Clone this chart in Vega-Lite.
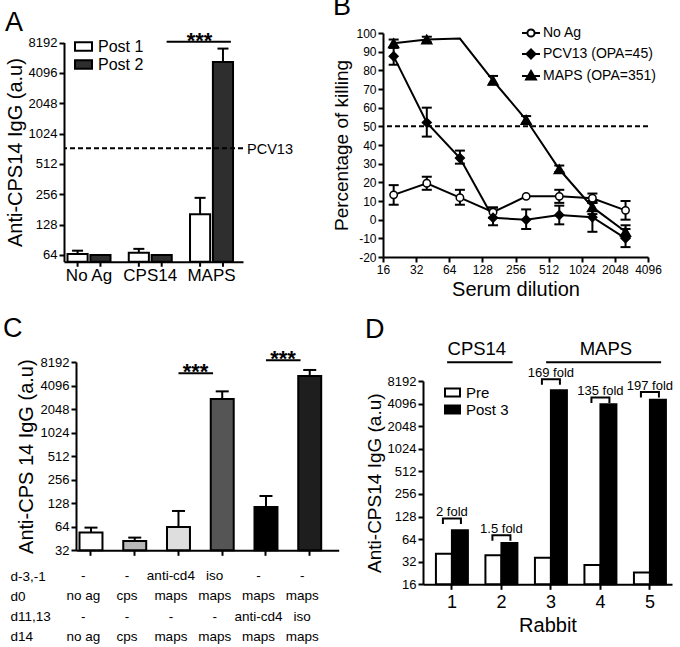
{
  "$schema": "https://vega.github.io/schema/vega-lite/v6.json",
  "background": "white",
  "padding": {"left": 3, "top": -7, "right": 0, "bottom": 0},
  "spacing": 16,
  "datasets": {
    "a": [
      {"group": "No Ag", "post": "Post 1", "value": 65.5, "hi": 70.6},
      {"group": "No Ag", "post": "Post 2", "value": 64, "hi": 64},
      {"group": "CPS14", "post": "Post 1", "value": 67.4, "hi": 73.6},
      {"group": "CPS14", "post": "Post 2", "value": 64, "hi": 64},
      {"group": "MAPS", "post": "Post 1", "value": 162, "hi": 236},
      {"group": "MAPS", "post": "Post 2", "value": 5250, "hi": 7130}
    ],
    "aref": [{"label": "PCV13", "value": 734}],
    "asig": [{"from": "CPS14", "to": "MAPS", "level": 8340, "label": "***"}],
    "b": [
      {"series": "No Ag", "dil": 20, "pct": 13.3, "lo": 8, "hi": 18.5},
      {"series": "No Ag", "dil": 40, "pct": 19.5, "lo": 16, "hi": 23},
      {"series": "No Ag", "dil": 80, "pct": 11.8, "lo": 8, "hi": 16},
      {"series": "No Ag", "dil": 160, "pct": 4, "lo": 1, "hi": 6.5},
      {"series": "No Ag", "dil": 320, "pct": 12.5, "lo": null, "hi": null},
      {"series": "No Ag", "dil": 640, "pct": 12.5, "lo": 9, "hi": 16},
      {"series": "No Ag", "dil": 1280, "pct": 11.5, "lo": 9, "hi": 14},
      {"series": "No Ag", "dil": 2560, "pct": 5, "lo": 0, "hi": 10},
      {"series": "PCV13 (OPA=45)", "dil": 20, "pct": 87.5, "lo": 83, "hi": 92},
      {"series": "PCV13 (OPA=45)", "dil": 40, "pct": 52, "lo": 44.5, "hi": 60},
      {"series": "PCV13 (OPA=45)", "dil": 80, "pct": 33, "lo": 30, "hi": 37},
      {"series": "PCV13 (OPA=45)", "dil": 160, "pct": 1, "lo": -3, "hi": 6.5},
      {"series": "PCV13 (OPA=45)", "dil": 320, "pct": 0, "lo": -5, "hi": 5.5},
      {"series": "PCV13 (OPA=45)", "dil": 640, "pct": 2.5, "lo": -2.5, "hi": 7.5},
      {"series": "PCV13 (OPA=45)", "dil": 1280, "pct": 1.3, "lo": -6.5, "hi": 9},
      {"series": "PCV13 (OPA=45)", "dil": 2560, "pct": -10, "lo": -14.7, "hi": -5},
      {"series": "MAPS (OPA=351)", "dil": 20, "pct": 94.5, "lo": 92.5, "hi": 96.5},
      {"series": "MAPS (OPA=351)", "dil": 40, "pct": 96.5, "lo": 95, "hi": 98},
      {"series": "MAPS (OPA=351)", "dil": 80, "pct": 97, "lo": null, "hi": null},
      {"series": "MAPS (OPA=351)", "dil": 160, "pct": 74.5, "lo": 72.5, "hi": 77},
      {"series": "MAPS (OPA=351)", "dil": 320, "pct": 53.5, "lo": 51.5, "hi": 55.5},
      {"series": "MAPS (OPA=351)", "dil": 640, "pct": 27, "lo": 25.5, "hi": 29},
      {"series": "MAPS (OPA=351)", "dil": 1280, "pct": 6.7, "lo": 3, "hi": 10},
      {"series": "MAPS (OPA=351)", "dil": 2560, "pct": -6.5, "lo": -9.5, "hi": -3}
    ],
    "bref": [{"value": 50}],
    "c": [
      {"bar": "1", "value": 53.9, "hi": 62.4},
      {"bar": "2", "value": 42.1, "hi": 46.5},
      {"bar": "3", "value": 63.7, "hi": 101.9},
      {"bar": "4", "value": 2750, "hi": 3450},
      {"bar": "5", "value": 114.7, "hi": 158.4},
      {"bar": "6", "value": 5440, "hi": 6480}
    ],
    "csig": [
      {"from": "3", "to": "4", "level": 5880, "label": "***"},
      {"from": "5", "to": "6", "level": 8620, "label": "***"}
    ],
    "ctab": [
      {"bar": "1", "row": "d-3,-1", "label": "-"},
      {"bar": "2", "row": "d-3,-1", "label": "-"},
      {"bar": "3", "row": "d-3,-1", "label": "anti-cd4"},
      {"bar": "4", "row": "d-3,-1", "label": "iso"},
      {"bar": "5", "row": "d-3,-1", "label": "-"},
      {"bar": "6", "row": "d-3,-1", "label": "-"},
      {"bar": "1", "row": "d0", "label": "no ag"},
      {"bar": "2", "row": "d0", "label": "cps"},
      {"bar": "3", "row": "d0", "label": "maps"},
      {"bar": "4", "row": "d0", "label": "maps"},
      {"bar": "5", "row": "d0", "label": "maps"},
      {"bar": "6", "row": "d0", "label": "maps"},
      {"bar": "1", "row": "d11,13", "label": "-"},
      {"bar": "2", "row": "d11,13", "label": "-"},
      {"bar": "3", "row": "d11,13", "label": "-"},
      {"bar": "4", "row": "d11,13", "label": "-"},
      {"bar": "5", "row": "d11,13", "label": "anti-cd4"},
      {"bar": "6", "row": "d11,13", "label": "iso"},
      {"bar": "1", "row": "d14", "label": "no ag"},
      {"bar": "2", "row": "d14", "label": "cps"},
      {"bar": "3", "row": "d14", "label": "maps"},
      {"bar": "4", "row": "d14", "label": "maps"},
      {"bar": "5", "row": "d14", "label": "maps"},
      {"bar": "6", "row": "d14", "label": "maps"}
    ],
    "d": [
      {"rabbit": "1", "bleed": "Pre", "value": 41},
      {"rabbit": "1", "bleed": "Post 3", "value": 84},
      {"rabbit": "2", "bleed": "Pre", "value": 39},
      {"rabbit": "2", "bleed": "Post 3", "value": 57},
      {"rabbit": "3", "bleed": "Pre", "value": 36},
      {"rabbit": "3", "bleed": "Post 3", "value": 6150},
      {"rabbit": "4", "bleed": "Pre", "value": 29},
      {"rabbit": "4", "bleed": "Post 3", "value": 4000},
      {"rabbit": "5", "bleed": "Pre", "value": 23},
      {"rabbit": "5", "bleed": "Post 3", "value": 4600}
    ],
    "dfold": [
      {"rabbit": "1", "level": 110.6, "label": "2 fold"},
      {"rabbit": "2", "level": 66.2, "label": "1.5 fold"},
      {"rabbit": "3", "level": 7940, "label": "169 fold"},
      {"rabbit": "4", "level": 4530, "label": "135 fold"},
      {"rabbit": "5", "level": 5360, "label": "197 fold"}
    ],
    "dgrp": [
      {"label": "CPS14", "from": "1", "to": "2", "level": 14540, "tlevel": 18050},
      {"label": "MAPS", "from": "3", "to": "5", "level": 14540, "tlevel": 18050}
    ]
  },
  "config": {
    "view": {"stroke": null},
    "concat": {"spacing": 20},
    "axis": {
      "domainColor": "black", "domainWidth": 2, "tickColor": "black", "tickWidth": 2, "tickSize": 5,
      "labelColor": "black", "titleColor": "black", "grid": false,
      "labelFont": "Liberation Sans, Arial, sans-serif",
      "titleFont": "Liberation Sans, Arial, sans-serif",
      "labelFontSize": 13, "titleFontSize": 20, "titleFontWeight": "normal",
      "labelOverlap": false, "labelFlush": false
    },
    "legend": {"labelColor": "black", "labelFont": "Liberation Sans, Arial, sans-serif", "padding": 0},
    "title": {"font": "Liberation Sans, Arial, sans-serif", "fontSize": 27, "fontWeight": "normal", "anchor": "start", "frame": "bounds", "color": "black", "offset": 2},
    "text": {"font": "Liberation Sans, Arial, sans-serif", "color": "black"}
  },
  "vconcat": [
    {
      "spacing": 39,
      "resolve": {"scale": {"fill": "independent", "shape": "independent", "size": "independent", "stroke": "independent", "xOffset": "independent", "x": "independent", "y": "independent"}},
      "hconcat": [
        {
          "width": 179, "height": 228.7,
          "title": {"text": "A", "offset": -7},
          "layer": [
            {
              "data": {"name": "a"},
              "mark": {"type": "bar", "stroke": "black", "strokeWidth": 2},
              "encoding": {
                "x": {"field": "group", "type": "nominal",
                      "scale": {"domain": ["No Ag", "CPS14", "MAPS"], "paddingInner": 0.298, "paddingOuter": 0.11, "align": 0.26},
                      "axis": {"title": null, "ticks": false, "labelAngle": 0, "labelFontSize": 17, "labelPadding": 6}},
                "xOffset": {"field": "post", "type": "nominal", "scale": {"domain": ["Post 1", "Post 2"], "paddingInner": 0.12}},
                "y": {"field": "value", "type": "quantitative",
                      "scale": {"type": "log", "domain": [54.9, 8192], "range": [228.7, 9.5], "nice": false},
                      "axis": {"values": [64, 128, 256, 512, 1024, 2048, 4096, 8192], "tickCount": 20, "labelExpr": "'' + datum.value", "title": "Anti-CPS14 IgG (a.u)", "labelPadding": 2, "titlePadding": 3}},
                "y2": {"datum": 54.9},
                "fill": {"field": "post", "type": "nominal", "scale": {"domain": ["Post 1", "Post 2"], "range": ["white", "#2e2e2e"]},
                         "legend": {"title": null, "orient": "none", "legendX": 10, "legendY": 4, "symbolType": "M-1,-0.5H1V0.5H-1Z", "symbolSize": 289, "symbolStrokeColor": "black", "symbolStrokeWidth": 2, "labelFontSize": 16, "labelOffset": 5, "rowPadding": -1}}
              }
            },
            {
              "data": {"name": "a"},
              "transform": [{"filter": "datum.hi > datum.value"}],
              "mark": {"type": "rule", "strokeWidth": 2, "color": "black"},
              "encoding": {
                "x": {"field": "group", "type": "nominal"},
                "xOffset": {"field": "post", "type": "nominal"},
                "y": {"field": "value", "type": "quantitative"},
                "y2": {"field": "hi"}
              }
            },
            {
              "data": {"name": "a"},
              "transform": [{"filter": "datum.hi > datum.value"}],
              "mark": {"type": "tick", "orient": "horizontal", "size": 11, "thickness": 2, "color": "black", "opacity": 1},
              "encoding": {
                "x": {"field": "group", "type": "nominal"},
                "xOffset": {"field": "post", "type": "nominal"},
                "y": {"field": "hi", "type": "quantitative"}
              }
            },
            {
              "data": {"name": "a"},
              "mark": {"type": "rule", "strokeWidth": 2, "color": "black", "clip": false},
              "encoding": {
                "x": {"field": "group", "type": "nominal"},
                "xOffset": {"field": "post", "type": "nominal"},
                "y": {"datum": 54.9},
                "y2": {"datum": 48.9}
              }
            },
            {
              "data": {"name": "aref"},
              "mark": {"type": "rule", "strokeWidth": 2, "strokeDash": [5, 3], "color": "black"},
              "encoding": {"y": {"field": "value", "type": "quantitative"}}
            },
            {
              "data": {"name": "aref"},
              "mark": {"type": "text", "align": "left", "baseline": "alphabetic", "fontSize": 14.5, "dx": 14, "dy": 6},
              "encoding": {
                "x": {"datum": "MAPS", "bandPosition": 1},
                "y": {"field": "value", "type": "quantitative"},
                "text": {"field": "label"}
              }
            },
            {
              "data": {"name": "asig"},
              "mark": {"type": "rule", "strokeWidth": 2, "color": "black", "clip": false},
              "encoding": {
                "x": {"field": "from", "type": "nominal", "bandPosition": 0.88},
                "x2": {"field": "to", "bandPosition": 0.95},
                "y": {"field": "level", "type": "quantitative"}
              }
            },
            {
              "data": {"name": "asig"},
              "mark": {"type": "text", "align": "center", "baseline": "alphabetic", "fontSize": 22, "fontWeight": "bold", "dy": 6},
              "encoding": {
                "x": {"datum": "MAPS", "bandPosition": 0.22},
                "y": {"field": "level", "type": "quantitative"},
                "text": {"field": "label"}
              }
            }
          ]
        },
        {
          "width": 265, "height": 224,
          "title": {"text": "B", "offset": 2},
          "resolve": {"scale": {"shape": "independent", "fill": "independent", "size": "independent", "stroke": "independent"}},
          "layer": [
            {
              "data": {"name": "b"},
              "mark": {"type": "line", "strokeWidth": 2, "color": "black"},
              "encoding": {
                "x": {"field": "dil", "type": "quantitative",
                      "scale": {"type": "log", "base": 2, "domain": [16, 4096], "nice": false},
                      "axis": {"values": [16, 32, 64, 128, 256, 512, 1024, 2048, 4096], "tickCount": 20, "labelExpr": "'' + datum.value", "title": "Serum dilution", "labelFontSize": 12, "labelPadding": 2, "titlePadding": 4}},
                "y": {"field": "pct", "type": "quantitative",
                      "scale": {"domain": [-20, 100], "nice": false, "zero": false},
                      "axis": {"values": [-20, -10, 0, 10, 20, 30, 40, 50, 60, 70, 80, 90, 100], "tickCount": 20, "labelExpr": "'' + datum.value", "title": "Percentage of killing", "labelFontSize": 12, "labelPadding": 2, "titlePadding": 4, "titleFontSize": 19}},
                "detail": {"field": "series"}
              }
            },
            {
              "data": {"name": "bref"},
              "mark": {"type": "rule", "strokeWidth": 2, "strokeDash": [5, 3], "color": "black"},
              "encoding": {"y": {"field": "value", "type": "quantitative"}}
            },
            {
              "data": {"name": "b"},
              "transform": [{"filter": "isValid(datum.lo)"}],
              "mark": {"type": "rule", "strokeWidth": 2, "color": "black"},
              "encoding": {
                "x": {"field": "dil", "type": "quantitative"},
                "y": {"field": "lo", "type": "quantitative"},
                "y2": {"field": "hi"}
              }
            },
            {
              "data": {"name": "b"},
              "transform": [{"filter": "isValid(datum.lo)"}],
              "mark": {"type": "tick", "orient": "horizontal", "size": 10, "thickness": 2, "color": "black", "opacity": 1},
              "encoding": {"x": {"field": "dil", "type": "quantitative"}, "y": {"field": "lo", "type": "quantitative"}}
            },
            {
              "data": {"name": "b"},
              "transform": [{"filter": "isValid(datum.hi)"}],
              "mark": {"type": "tick", "orient": "horizontal", "size": 10, "thickness": 2, "color": "black", "opacity": 1},
              "encoding": {"x": {"field": "dil", "type": "quantitative"}, "y": {"field": "hi", "type": "quantitative"}}
            },
            {
              "data": {"name": "b"},
              "transform": [{"filter": "datum.series != 'MAPS (OPA=351)' || datum.dil != 80"}],
              "mark": {"type": "point", "filled": true, "stroke": "black", "strokeWidth": 1.5, "opacity": 1},
              "encoding": {
                "x": {"field": "dil", "type": "quantitative"},
                "y": {"field": "pct", "type": "quantitative"},
                "shape": {"field": "series", "type": "nominal", "scale": {"domain": ["No Ag", "PCV13 (OPA=45)", "MAPS (OPA=351)"], "range": ["circle", "diamond", "triangle-up"]}, "legend": null},
                "fill": {"field": "series", "type": "nominal", "scale": {"domain": ["No Ag", "PCV13 (OPA=45)", "MAPS (OPA=351)"], "range": ["white", "black", "black"]}, "legend": null},
                "size": {"field": "series", "type": "nominal", "scale": {"domain": ["No Ag", "PCV13 (OPA=45)", "MAPS (OPA=351)"], "range": [55, 100, 120]}, "legend": null}
              }
            },
            {
              "data": {"name": "b"},
              "transform": [{"filter": "false"}],
              "mark": {"type": "point", "filled": true, "strokeWidth": 2, "size": 324, "opacity": 1},
              "encoding": {
                "x": {"field": "dil", "type": "quantitative"},
                "y": {"field": "pct", "type": "quantitative"},
                "shape": {"field": "series", "type": "nominal",
                          "scale": {"domain": ["No Ag", "PCV13 (OPA=45)", "MAPS (OPA=351)"], "range": ["M-1,0H-0.4M0.4,0H1M-0.4,0A0.4,0.4 0 1,1 0.4,0A0.4,0.4 0 1,1 -0.4,0Z", "M-1,0H1M-0.5,0L0,-0.5L0.5,0L0,0.5Z", "M-1,0H1M0,-0.55L0.55,0.4L-0.55,0.4Z"]},
                          "legend": {"title": null, "orient": "none", "legendX": 138, "legendY": -10, "labelFontSize": 14, "labelOffset": 2, "rowPadding": 3, "symbolSize": 324, "symbolStrokeWidth": 2}},
                "fill": {"field": "series", "type": "nominal",
                         "scale": {"domain": ["No Ag", "PCV13 (OPA=45)", "MAPS (OPA=351)"], "range": ["white", "black", "black"]},
                         "legend": {"title": null, "orient": "none", "legendX": 138, "legendY": -10, "labelFontSize": 14, "labelOffset": 2, "rowPadding": 3, "symbolSize": 324, "symbolStrokeWidth": 2}},
                "stroke": {"field": "series", "type": "nominal",
                         "scale": {"domain": ["No Ag", "PCV13 (OPA=45)", "MAPS (OPA=351)"], "range": ["black", "black", "black"]},
                         "legend": {"title": null, "orient": "none", "legendX": 138, "legendY": -10, "labelFontSize": 14, "labelOffset": 2, "rowPadding": 3, "symbolSize": 324, "symbolStrokeWidth": 2}}
              }
            }
          ]
        }
      ]
    },
    {
      "spacing": 26,
      "resolve": {"scale": {"fill": "independent", "shape": "independent", "size": "independent", "stroke": "independent", "xOffset": "independent", "x": "independent", "y": "independent"}},
      "hconcat": [
        {
          "spacing": 8,
          "resolve": {"scale": {"x": "independent", "y": "independent", "fill": "independent"}},
          "vconcat": [
            {
              "width": 274.7, "height": 188.3,
              "title": {"text": "C", "offset": 5, "dx": -13},
              "layer": [
                {
                  "data": {"name": "c"},
                  "mark": {"type": "bar", "stroke": "black", "strokeWidth": 2},
                  "encoding": {
                    "x": {"field": "bar", "type": "nominal",
                          "scale": {"range": [12, 274.7], "paddingInner": 0.475, "paddingOuter": 0.24, "align": 0.167},
                          "axis": {"title": null, "labels": false, "ticks": true}},
                    "y": {"field": "value", "type": "quantitative",
                          "scale": {"type": "log", "domain": [32, 8192], "nice": false},
                          "axis": {"values": [32, 64, 128, 256, 512, 1024, 2048, 4096, 8192], "tickCount": 20, "labelExpr": "'' + datum.value", "title": "Anti-CPS 14 IgG (a.u)", "offset": -12, "labelPadding": 2, "titlePadding": 4}},
                    "y2": {"datum": 32},
                    "fill": {"field": "bar", "type": "nominal", "scale": {"range": ["white", "#b8b8b8", "#dedede", "#555555", "#000000", "#1e1e1e"]}, "legend": null}
                  }
                },
                {
                  "data": {"name": "c"},
                  "mark": {"type": "rule", "strokeWidth": 2, "color": "black"},
                  "encoding": {
                    "x": {"field": "bar", "type": "nominal"},
                    "y": {"field": "value", "type": "quantitative"},
                    "y2": {"field": "hi"}
                  }
                },
                {
                  "data": {"name": "c"},
                  "mark": {"type": "tick", "orient": "horizontal", "size": 13, "thickness": 2, "color": "black", "opacity": 1},
                  "encoding": {
                    "x": {"field": "bar", "type": "nominal"},
                    "y": {"field": "hi", "type": "quantitative"}
                  }
                },
                {
                  "data": {"name": "csig"},
                  "mark": {"type": "rule", "strokeWidth": 2, "color": "black", "clip": false},
                  "encoding": {
                    "x": {"field": "from", "type": "nominal", "bandPosition": 0.5},
                    "x2": {"field": "to", "bandPosition": 0.1},
                    "y": {"field": "level", "type": "quantitative"}
                  }
                },
                {
                  "data": {"name": "csig"},
                  "mark": {"type": "text", "align": "center", "baseline": "alphabetic", "fontSize": 22, "fontWeight": "bold", "dy": 6},
                  "encoding": {
                    "x": {"field": "from", "type": "nominal", "bandPosition": 1.24},
                    "y": {"field": "level", "type": "quantitative"},
                    "text": {"field": "label"}
                  }
                }
              ]
            },
            {
              "width": 274.7, "height": 81,
              "data": {"name": "ctab"},
              "mark": {"type": "text", "align": "center", "baseline": "middle", "fontSize": 13.5},
              "encoding": {
                "x": {"field": "bar", "type": "nominal",
                      "scale": {"range": [12, 274.7], "paddingInner": 0.475, "paddingOuter": 0.24, "align": 0.167},
                      "axis": null},
                "y": {"field": "row", "type": "nominal", "sort": ["d-3,-1", "d0", "d11,13", "d14"],
                      "scale": {"type": "point", "padding": 0.5},
                      "axis": {"title": null, "domain": false, "ticks": false, "labelAlign": "left", "labelPadding": 54, "labelFontSize": 13.5, "labelBaseline": "middle"}},
                "text": {"field": "label"}
              }
            }
          ]
        },
        {
          "width": 249, "height": 222.3,
          "title": {"text": "D", "offset": -4},
          "layer": [
            {
              "data": {"name": "d"},
              "mark": {"type": "bar", "stroke": "black", "strokeWidth": 2},
              "encoding": {
                "x": {"field": "rabbit", "type": "nominal",
                      "scale": {"paddingInner": 0.354, "paddingOuter": 0.192, "align": 0.68},
                      "axis": {"title": "Rabbit", "labelAngle": 0, "labelFontSize": 18, "labelPadding": 4, "titlePadding": 4}},
                "xOffset": {"field": "bleed", "type": "nominal", "scale": {"domain": ["Pre", "Post 3"], "paddingInner": 0, "paddingOuter": 0}},
                "y": {"field": "value", "type": "quantitative",
                      "scale": {"type": "log", "domain": [16, 8192], "range": [222.3, 19], "nice": false},
                      "axis": {"values": [16, 32, 64, 128, 256, 512, 1024, 2048, 4096, 8192], "tickCount": 20, "labelExpr": "'' + datum.value", "title": "Anti-CPS14 IgG (a.u)", "titleFontSize": 19, "labelPadding": 2, "titlePadding": 3}},
                "y2": {"datum": 16},
                "fill": {"field": "bleed", "type": "nominal", "scale": {"domain": ["Pre", "Post 3"], "range": ["white", "black"]},
                         "legend": {"title": null, "orient": "none", "legendX": 21, "legendY": 22, "symbolType": "M-1,-0.53H1V0.53H-1Z", "symbolSize": 225, "symbolStrokeColor": "black", "symbolStrokeWidth": 2, "labelFontSize": 15, "labelOffset": 5, "rowPadding": -1}}
              }
            },
            {
              "data": {"name": "dfold"},
              "mark": {"type": "point", "shape": "M-1,0.3V-0.3H1V0.3", "size": 324, "filled": false, "stroke": "black", "strokeWidth": 2, "opacity": 1, "clip": false},
              "encoding": {
                "x": {"field": "rabbit", "type": "nominal"},
                "y": {"field": "level", "type": "quantitative"}
              }
            },
            {
              "data": {"name": "dfold"},
              "mark": {"type": "text", "align": "center", "baseline": "alphabetic", "fontSize": 13, "dy": -5},
              "encoding": {
                "x": {"field": "rabbit", "type": "nominal"},
                "y": {"field": "level", "type": "quantitative"},
                "text": {"field": "label"}
              }
            },
            {
              "data": {"name": "dgrp"},
              "mark": {"type": "rule", "strokeWidth": 2, "color": "black", "clip": false},
              "encoding": {
                "x": {"field": "from", "type": "nominal", "bandPosition": 0.35},
                "x2": {"field": "to", "bandPosition": 0.85},
                "y": {"field": "level", "type": "quantitative"}
              }
            },
            {
              "data": {"name": "dgrp"},
              "transform": [{"filter": "datum.label == 'CPS14'"}],
              "mark": {"type": "text", "align": "center", "baseline": "alphabetic", "fontSize": 18.5},
              "encoding": {
                "x": {"field": "from", "type": "nominal", "bandPosition": 1.28},
                "y": {"field": "tlevel", "type": "quantitative"},
                "text": {"field": "label"}
              }
            },
            {
              "data": {"name": "dgrp"},
              "transform": [{"filter": "datum.label == 'MAPS'"}],
              "mark": {"type": "text", "align": "center", "baseline": "alphabetic", "fontSize": 18.5},
              "encoding": {
                "x": {"field": "from", "type": "nominal", "bandPosition": 2.22},
                "y": {"field": "tlevel", "type": "quantitative"},
                "text": {"field": "label"}
              }
            }
          ]
        }
      ]
    }
  ]
}
